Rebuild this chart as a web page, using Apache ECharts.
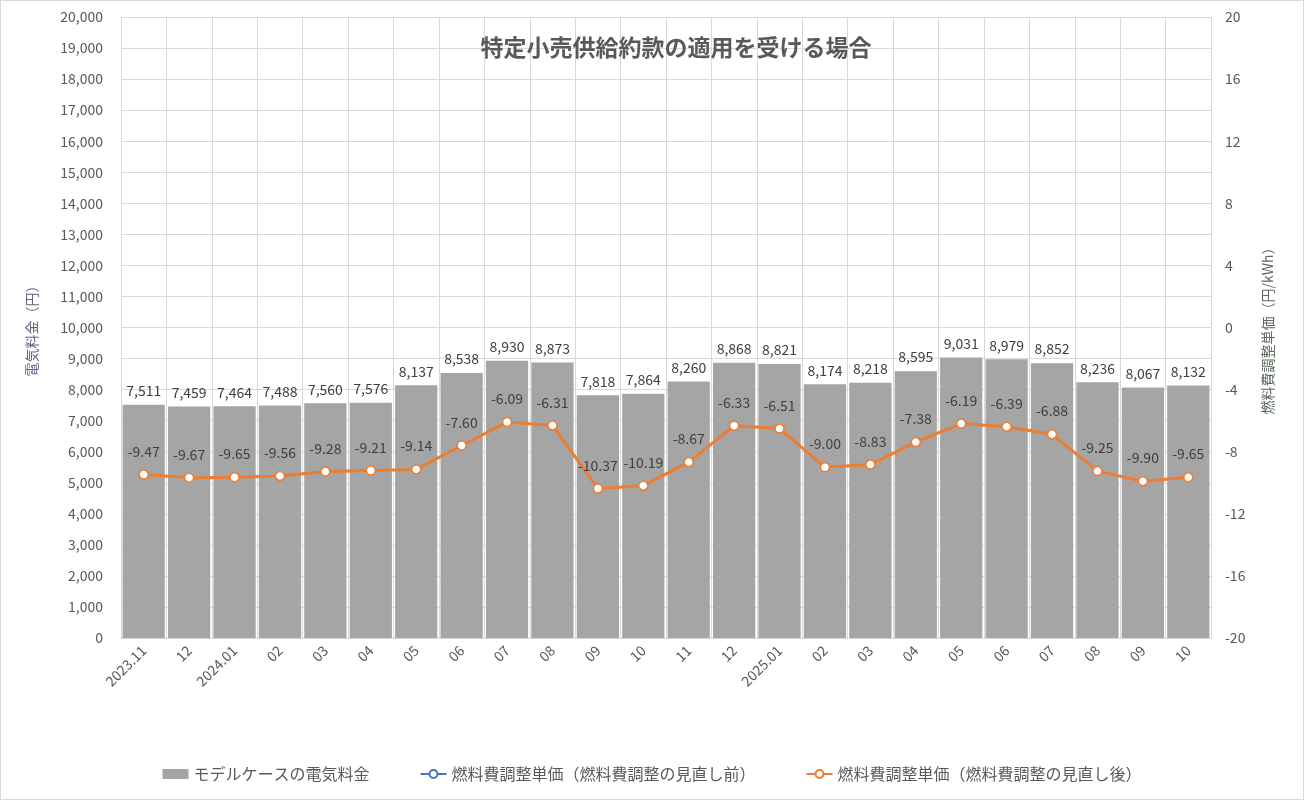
<!DOCTYPE html>
<html><head><meta charset="utf-8">
<script src="https://cdn.jsdelivr.net/npm/echarts@6/dist/echarts.min.js"></script>
<style>
html,body{margin:0;padding:0;background:#fff;}
#c{width:1302px;height:798px;border:1px solid #D9D9D9;}
</style></head>
<body><div id="c"></div>
<script>
const categories = ['2023.11','12','2024.01','02','03','04','05','06','07','08','09','10','11','12','2025.01','02','03','04','05','06','07','08','09','10'];
const billValues = [7511,7459,7464,7488,7560,7576,8137,8538,8930,8873,7818,7864,8260,8868,8821,8174,8218,8595,9031,8979,8852,8236,8067,8132];
const unitBefore = categories.map(() => null);
const unitAfter = [-9.47,-9.67,-9.65,-9.56,-9.28,-9.21,-9.14,-7.60,-6.09,-6.31,-10.37,-10.19,-8.67,-6.33,-6.51,-9.00,-8.83,-7.38,-6.19,-6.39,-6.88,-9.25,-9.90,-9.65];
const seriesNames = ['モデルケースの電気料金','燃料費調整単価（燃料費調整の見直し前）','燃料費調整単価（燃料費調整の見直し後）'];
const titleText = '特定小売供給約款の適用を受ける場合';

const FONT = '"Noto Sans CJK JP", "Noto Sans", sans-serif';
const chart = echarts.init(document.getElementById('c'));
chart.setOption({
  animation: false,
  textStyle: { fontFamily: FONT },
  title: {
    text: titleText, left: 670, top: 30, textAlign: 'center',
    textStyle: { fontSize: 23, fontWeight: 'bold', color: '#595959', fontFamily: FONT }
  },
  legend: {
    bottom: 12, left: 'center', itemGap: 50,
    textStyle: { fontSize: 16, color: '#595959', fontFamily: FONT },
    data: [
      { name: seriesNames[0], icon: 'rect', itemStyle: { color: '#A5A5A5' } },
      { name: seriesNames[1] },
      { name: seriesNames[2] }
    ],
    itemWidth: 26, itemHeight: 10
  },
  grid: { left: 120, right: 92, top: 16, bottom: 161 },
  xAxis: {
    type: 'category', data: categories,
    axisLine: { lineStyle: { color: '#D9D9D9' } },
    axisTick: { show: false },
    splitLine: { show: true, lineStyle: { color: '#D9D9D9' } },
    axisLabel: { rotate: 45, color: '#595959', fontSize: 14, margin: 10, interval: 0 }
  },
  yAxis: [
    {
      type: 'value', min: 0, max: 20000, interval: 1000,
      name: '電気料金（円）', nameLocation: 'middle', nameGap: 82, nameRotate: 90,
      nameTextStyle: { color: '#6E5E80', fontSize: 14 },
      axisLine: { show: false }, axisTick: { show: false },
      splitLine: { lineStyle: { color: '#D9D9D9' } },
      axisLabel: { color: '#595959', fontSize: 14, margin: 18,
        formatter: v => v.toLocaleString('en-US') }
    },
    {
      type: 'value', min: -20, max: 20, interval: 4, position: 'right',
      name: '燃料費調整単価（円/kWh）', nameLocation: 'middle', nameGap: 50, nameRotate: 90,
      nameTextStyle: { color: '#5E6A5E', fontSize: 14 },
      axisLine: { show: false }, axisTick: { show: false },
      splitLine: { show: false },
      axisLabel: { color: '#595959', fontSize: 14, margin: 14 }
    }
  ],
  series: [
    {
      name: seriesNames[0], type: 'bar', data: billValues, yAxisIndex: 0,
      barCategoryGap: '7%',
      itemStyle: { color: '#A5A5A5' },
      label: { show: true, position: 'top', distance: 7, color: '#404040', fontSize: 14,
        formatter: p => p.value.toLocaleString('en-US') }
    },
    {
      name: seriesNames[1], type: 'line', data: unitBefore, yAxisIndex: 1,
      symbol: 'circle', symbolSize: 8,
      lineStyle: { color: '#4472C4', width: 3 },
      itemStyle: { color: '#FFFFFF', borderColor: '#4472C4', borderWidth: 1.5 }
    },
    {
      name: seriesNames[2], type: 'line', data: unitAfter, yAxisIndex: 1,
      symbol: 'circle', symbolSize: 9,
      lineStyle: { color: '#ED7D31', width: 3 },
      itemStyle: { color: '#FFFFFF', borderColor: '#ED7D31', borderWidth: 1.5 },
      label: { show: true, position: 'top', distance: 11, color: '#404040', fontSize: 14,
        formatter: p => p.value.toFixed(2) },
      z: 5
    }
  ]
});
</script>
</body></html>
